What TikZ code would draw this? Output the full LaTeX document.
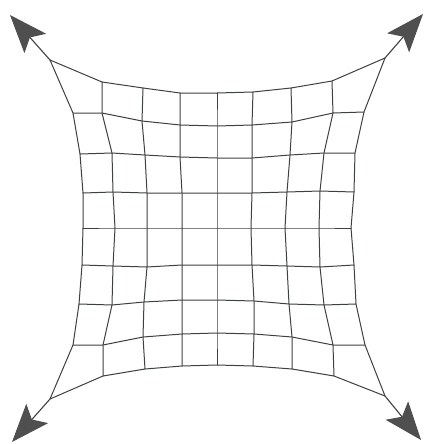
\documentclass[tikz,border=0pt]{standalone}
\usetikzlibrary{arrows.meta}
\definecolor{gridcol}{HTML}{3E423E}
\definecolor{headcol}{HTML}{4F4F4F}
\tikzset{
  gridline/.style={draw=gridcol, line width=1pt, line join=round, line cap=round},
  cornerarrow/.style={draw=gridcol, line width=1.1pt, -{Stealth[length=38pt, width=29pt, inset=8pt, color=headcol, fill=headcol]}},
}
\begin{document}
\begin{tikzpicture}[x=1pt, y=-1pt]
\useasboundingbox[fill=white] (0,0) rectangle (425,444);
% grid vertices, row by row (top to bottom), columns left to right
\foreach \row [count=\j from 0] in {
  {50/60, 102/82, 143/88, 180/93, 217/93, 253/92, 291/88, 332/81, 385/58},
  {73/113, 102/113, 142/121, 180/125, 217/126, 252/125, 292/122, 333/113, 364/112},
  {80/154, 112/153, 145/155, 180/157, 217/158, 252/158, 290/155, 324/153, 355/153},
  {83/193, 113/192, 147/193, 182/193, 217/193, 252/193, 287/192, 320/191, 354/192},
  {83/228, 115/228, 147/228, 182/228, 217/228, 251/228, 285/228, 319/228, 351/228},
  {82/265, 113/266, 147/267, 182/265, 217/265, 252/265, 287/266, 320/267, 354/265},
  {79/304, 112/305, 144/302, 182/300, 217/300, 254/301, 289/304, 324/305, 356/304},
  {73/345, 103/345, 143/337, 182/334, 217/333, 254/334, 292/337, 333/345, 365/345},
  {50/399, 103/376, 145/369, 182/366, 217/365, 253/366, 292/369, 334/376, 385/396}}
{
  \foreach \px/\py [count=\i from 0] in \row {
    \coordinate (p-\i-\j) at (\px,\py);
  }
}
% horizontal lines
\foreach \j in {0,...,8} {
  \draw[gridline] (p-0-\j) \foreach \i in {1,...,8} { -- (p-\i-\j) };
}
% vertical lines
\foreach \i in {0,...,8} {
  \draw[gridline] (p-\i-0) \foreach \j in {1,...,8} { -- (p-\i-\j) };
}
% arrow tips
\coordinate (tl) at (10,15);
\coordinate (tr) at (423,14);
\coordinate (bl) at (12,442);
\coordinate (br) at (421,440);
\draw[cornerarrow] (p-0-0) -- (tl);
\draw[cornerarrow] (p-8-0) -- (tr);
\draw[cornerarrow] (p-0-8) -- (bl);
\draw[cornerarrow] (p-8-8) -- (br);
\end{tikzpicture}
\end{document}
